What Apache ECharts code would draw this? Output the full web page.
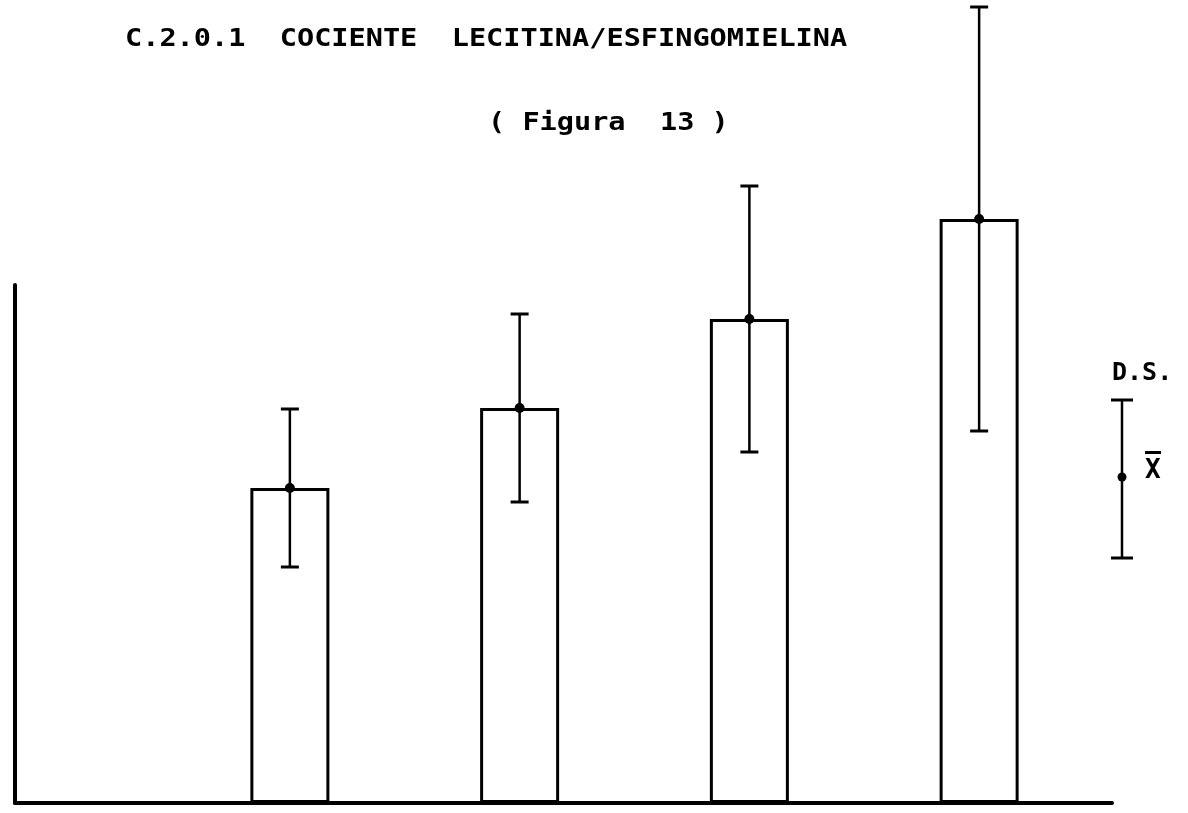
<!DOCTYPE html>
<html>
<head>
<meta charset="utf-8">
<script src="https://cdn.jsdelivr.net/npm/echarts@6/dist/echarts.min.js"></script>
<style>
html,body{margin:0;padding:0;background:#fff;}
#chart{width:1188px;height:813px;}
</style>
</head>
<body>
<div id="chart"></div>
<script>
// Data (arbitrary units; baseline = 0)
const categories = ['1', '2', '3', '4'];
const means = [3.15, 3.95, 4.84, 5.84];
const sds = [0.79, 0.94, 1.33, 2.12];

const titleText = 'C.2.0.1  COCIENTE  LECITINA/ESFINGOMIELINA';
const subtitleText = '( Figura  13 )';
const legendSD = 'D.S.';
const legendMean = 'X';

const chart = echarts.init(document.getElementById('chart'), null, {renderer: 'canvas'});

const errData = categories.map((c, i) => [i, means[i] - sds[i], means[i] + sds[i], means[i]]);

const FONT = '"DejaVu Sans Mono", "Liberation Mono", monospace';

const option = {
  backgroundColor: '#ffffff',
  animation: false,
  grid: [
    {left: 175, right: 94, top: 3, bottom: 10},
    {left: 15, right: 76, top: 285, bottom: 10}
  ],
  xAxis: [
    {gridIndex: 0, type: 'category', data: categories, show: false},
    {gridIndex: 1, type: 'value', min: 0, max: 1,
     axisLine: {show: true, lineStyle: {color: '#000', width: 4}},
     axisTick: {show: false}, axisLabel: {show: false}, splitLine: {show: false}}
  ],
  yAxis: [
    {gridIndex: 0, type: 'value', min: 0, max: 8, show: false},
    {gridIndex: 1, type: 'value', min: 0, max: 1,
     axisLine: {show: true, lineStyle: {color: '#000', width: 4}},
     axisTick: {show: false}, axisLabel: {show: false}, splitLine: {show: false}}
  ],
  series: [
    {
      type: 'bar',
      xAxisIndex: 0, yAxisIndex: 0,
      data: means,
      barWidth: 79,
      itemStyle: {color: '#ffffff', borderColor: '#000000', borderWidth: 3},
      z: 2
    },
    {
      type: 'custom',
      xAxisIndex: 0, yAxisIndex: 0,
      data: errData,
      encode: {x: 0, y: [1, 2]},
      z: 5,
      renderItem: function (params, api) {
        const i = api.value(0);
        const lo = api.coord([i, api.value(1)]);
        const hi = api.coord([i, api.value(2)]);
        const m = api.coord([i, api.value(3)]);
        const hw = 9;
        const st = {stroke: '#000', lineWidth: 2.5};
        return {
          type: 'group',
          children: [
            {type: 'line', shape: {x1: hi[0], y1: hi[1], x2: lo[0], y2: lo[1]}, style: st},
            {type: 'line', shape: {x1: hi[0] - hw, y1: hi[1], x2: hi[0] + hw, y2: hi[1]}, style: {stroke: '#000', lineWidth: 3}},
            {type: 'line', shape: {x1: lo[0] - hw, y1: lo[1], x2: lo[0] + hw, y2: lo[1]}, style: {stroke: '#000', lineWidth: 3}},
            {type: 'circle', shape: {cx: m[0], cy: m[1], r: 5}, style: {fill: '#000'}}
          ]
        };
      }
    }
  ],
  graphic: [
    {type: 'text', x: 125, y: 40, scaleX: 1.19,
     style: {text: titleText, font: 'bold 24px ' + FONT, fill: '#000', textAlign: 'left', textVerticalAlign: 'middle'}},
    {type: 'text', x: 488, y: 124, scaleX: 1.19,
     style: {text: subtitleText, font: 'bold 24px ' + FONT, fill: '#000', textAlign: 'left', textVerticalAlign: 'middle'}},
    {type: 'text', x: 1112, y: 373,
     style: {text: legendSD, font: 'bold 25px ' + FONT, fill: '#000', textAlign: 'left', textVerticalAlign: 'middle'}},
    {type: 'text', x: 1145, y: 471,
     style: {text: legendMean, font: 'bold 26px ' + FONT, fill: '#000', textAlign: 'left', textVerticalAlign: 'middle'}},
    {type: 'rect', shape: {x: 1145, y: 451, width: 16, height: 3}, style: {fill: '#000'}},
    {type: 'line', shape: {x1: 1122, y1: 400, x2: 1122, y2: 558}, style: {stroke: '#000', lineWidth: 2.5}},
    {type: 'line', shape: {x1: 1111, y1: 400, x2: 1133, y2: 400}, style: {stroke: '#000', lineWidth: 3}},
    {type: 'line', shape: {x1: 1111, y1: 558, x2: 1133, y2: 558}, style: {stroke: '#000', lineWidth: 3}},
    {type: 'circle', shape: {cx: 1122, cy: 477, r: 4.5}, style: {fill: '#000'}}
  ]
};

chart.setOption(option);
</script>
</body>
</html>
